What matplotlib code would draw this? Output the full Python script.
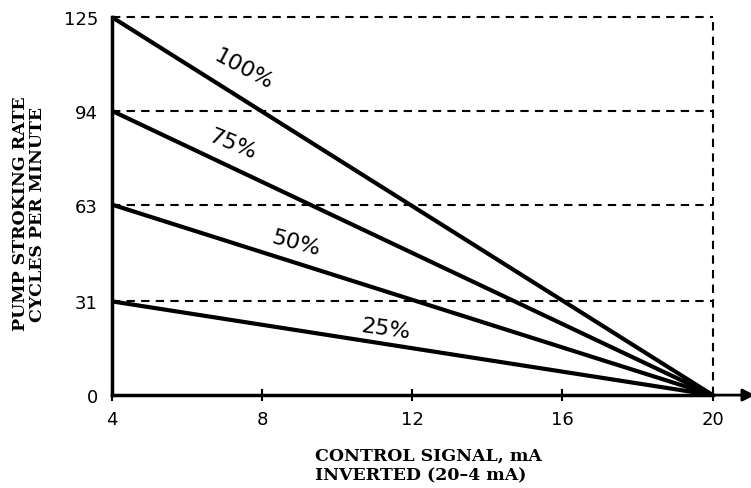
import matplotlib
matplotlib.use("Agg")
import matplotlib.pyplot as plt

# Data
x_start, x_end = 4, 20
max_rates = [125, 94, 63, 31]
series_labels = ["100%", "75%", "50%", "25%"]
label_pos = [(7.5, 108), (7.2, 83), (8.9, 50.5), (11.3, 22)]
label_rot = [-28, -22, -15, -8]
x_ticks = [4, 8, 12, 16, 20]
y_ticks = [0, 31, 63, 94, 125]

fig = plt.figure(figsize=(7.51, 4.89), dpi=100)
ax = fig.add_axes([0.149, 0.190, 0.800, 0.773])
ax.set_xlim(x_start, x_end)
ax.set_ylim(0, 125)

for r in max_rates:
    ax.plot([x_start, x_end], [r, r], linestyle=(0, (4, 3)), color="black", lw=1.5, clip_on=False, zorder=1)
ax.plot([x_end, x_end], [0, 125], linestyle=(0, (4, 3)), color="black", lw=1.5, clip_on=False, zorder=1)

for r in max_rates:
    ax.plot([x_start, x_end], [r, 0], color="black", lw=3, solid_capstyle="butt", clip_on=False, zorder=3)

for lab, (lx, ly), rot in zip(series_labels, label_pos, label_rot):
    ax.text(lx, ly, lab, rotation=rot, ha="center", va="center", fontsize=16,
            family="DejaVu Sans", rotation_mode="anchor")

for side in ["top", "right"]:
    ax.spines[side].set_visible(False)
ax.spines["left"].set_linewidth(2.5)
ax.spines["bottom"].set_linewidth(2.5)

# arrow on x axis
ax.annotate("", xy=(21.2, 0), xytext=(19.9, 0), xycoords="data",
            arrowprops=dict(arrowstyle="-|>", color="black", lw=2, mutation_scale=18),
            annotation_clip=False)

ax.set_xticks(x_ticks)
ax.set_yticks(y_ticks)
ax.set_xticklabels([str(t) for t in x_ticks], fontsize=13)
ax.set_yticklabels([str(t) for t in y_ticks], fontsize=13)
ax.tick_params(axis="x", direction="inout", length=8, width=1.5, pad=7)
ax.tick_params(axis="y", length=0, pad=10)

fig.text(0.039, 0.562, "PUMP STROKING RATE\nCYCLES PER MINUTE", rotation=90,
         ha="center", va="center", fontsize=12.5, fontweight="bold", family="DejaVu Serif",
         linespacing=1.0)
fig.text(0.419, 0.047, "CONTROL SIGNAL, mA\nINVERTED (20\u20134 mA)", ha="left", va="center",
         fontsize=12.5, fontweight="bold", family="DejaVu Serif", linespacing=1.2)

fig.savefig("out.png", dpi=100)
